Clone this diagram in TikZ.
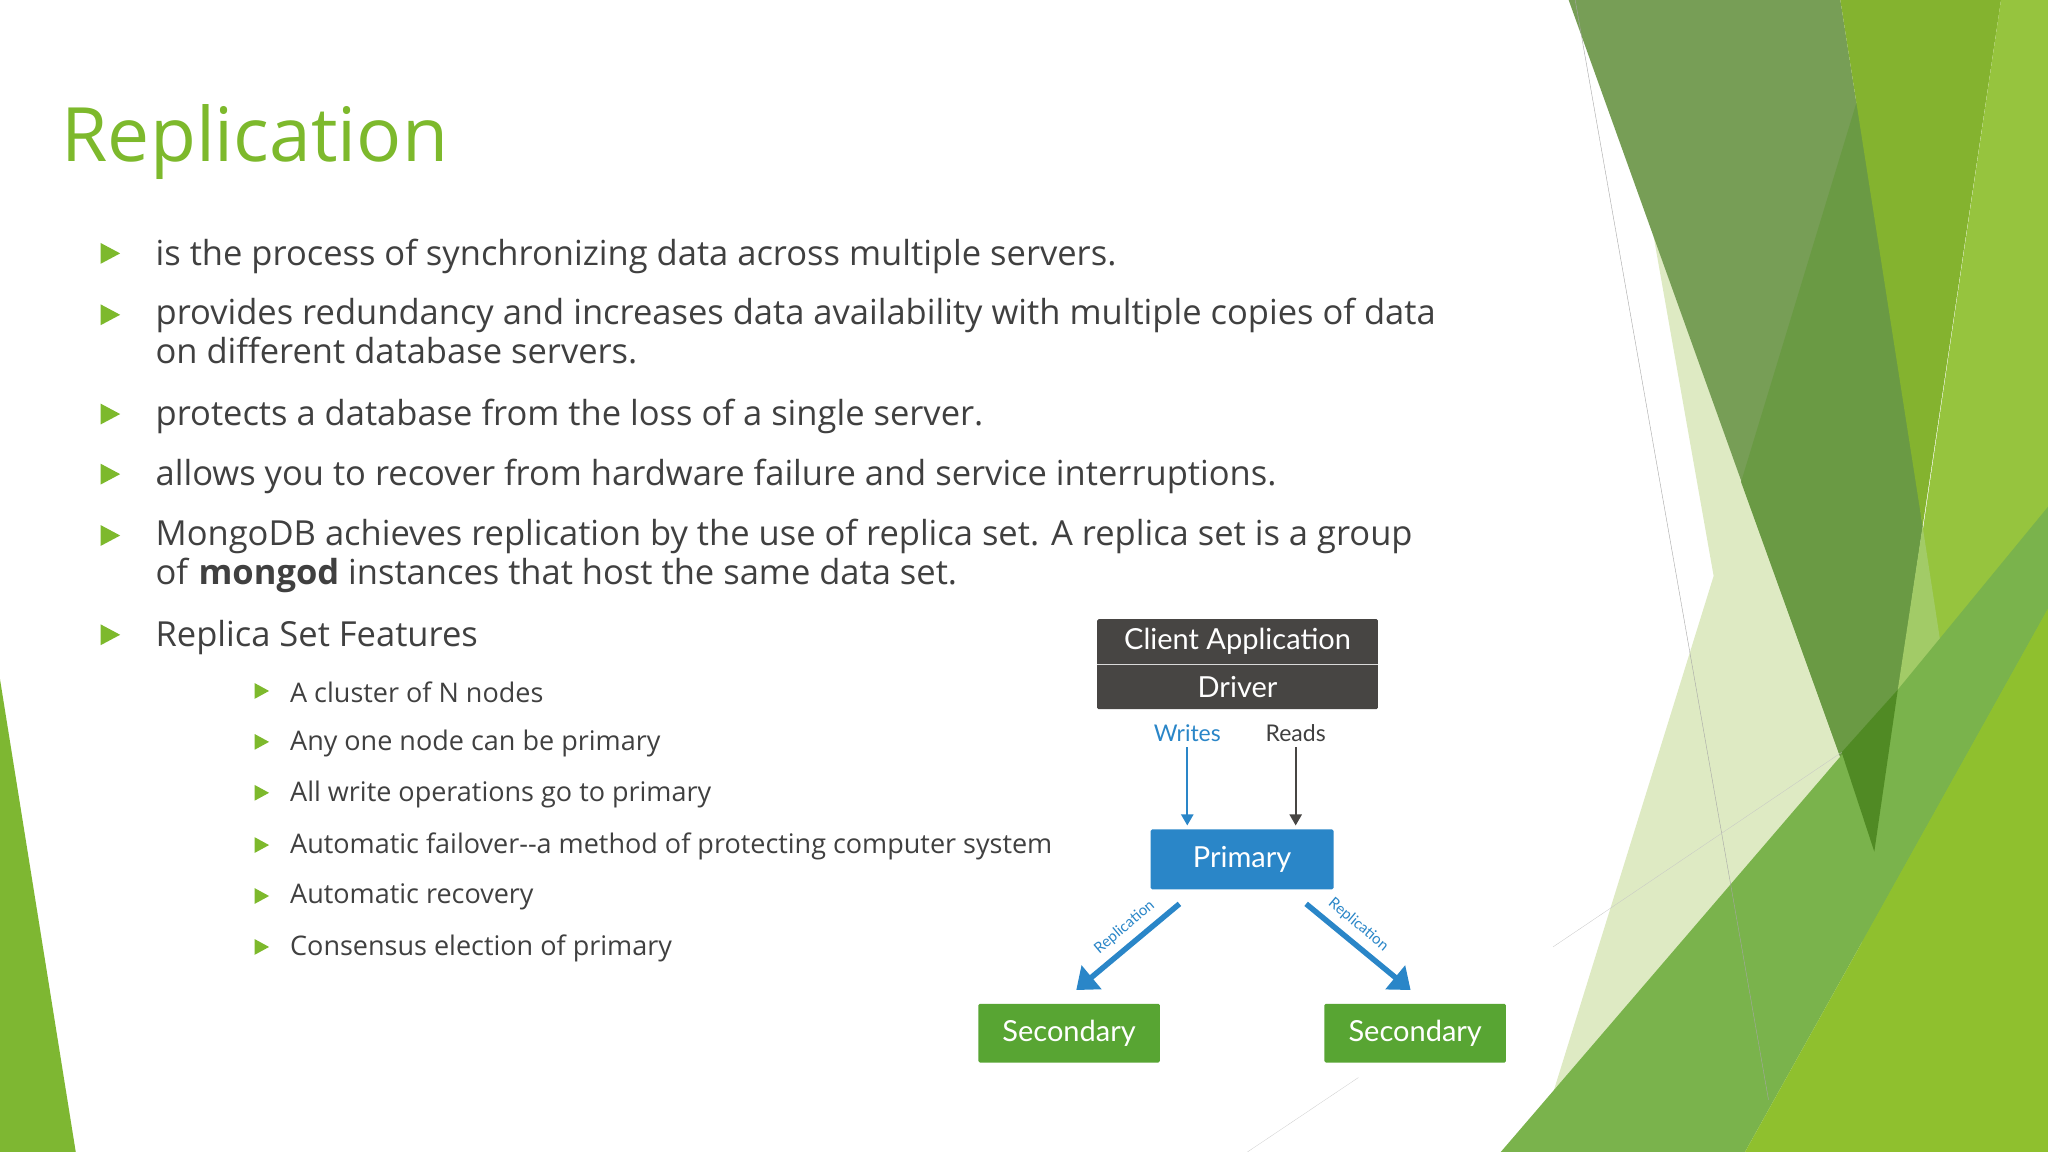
\documentclass[tikz,border=0pt]{standalone}
\usepackage{fontspec}
\setmainfont{Open Sans}
\newfontfamily\dfont{Lato}
\usetikzlibrary{arrows.meta}
\definecolor{tgreen}{HTML}{7DB92C}
\definecolor{txt}{HTML}{404040}
\definecolor{dbox}{HTML}{474543}
\definecolor{pblue}{HTML}{2A86C8}
\definecolor{sgreen}{HTML}{58A533}
\begin{document}
\begin{tikzpicture}[x=1.306pt,y=-1.306pt,
  bul/.style={fill=tgreen},
  body/.style={anchor=west,inner sep=0,text=txt,font=\fontsize{34.5}{39}\selectfont,align=left},
  sub/.style={anchor=west,inner sep=0,text=txt,font=\fontsize{27}{30}\selectfont},
  box/.style={inner sep=0,font=\dfont\fontsize{29}{30}\selectfont,text=white},
  rep/.style={pblue,line width=5.5,-{Triangle[length=20pt,width=30pt]}},
  rl/.style={font=\dfont\fontsize{15}{15}\selectfont,text=pblue,inner sep=0}]
\useasboundingbox (0,0) rectangle (1568,882);
\fill[white] (0,0) rectangle (1568,882);
% background decoration
\fill[fill={rgb,255:red,126;green,183;blue,50}] (0,520) -- (58,882) -- (0,882) -- cycle;
\fill[fill={rgb,255:red,222;green,234;blue,195}] (1265,175) -- (1440,660) -- (1175,882) -- (1312,441) -- cycle;
\fill[fill={rgb,255:red,119;green,158;blue,86}] (1201,0) -- (1409,0) -- (1472,403) -- (1435,652) -- cycle;
\fill[fill={rgb,255:red,106;green,154;blue,68}] (1333,369) -- (1427,60) -- (1472,403) -- (1435,652) -- cycle;
\fill[fill={rgb,255:red,132;green,179;blue,47}] (1409,0) -- (1532,0) -- (1472,403) -- cycle;
\fill[fill={rgb,255:red,150;green,196;blue,62}] (1532,0) -- (1568,0) -- (1568,882) -- (1402,882) -- cycle;
\fill[fill={rgb,255:red,162;green,203;blue,103}] (1472,403) -- (1499,579) -- (1427,715) -- (1453,528) -- cycle;
\fill[fill={rgb,255:red,122;green,179;blue,76}] (1149,882) -- (1453,528) -- (1568,388) -- (1568,466) -- (1336,882) -- cycle;
\fill[fill={rgb,255:red,80;green,138;blue,36}] (1410,576) -- (1453,528) -- (1435,652) -- cycle;
\fill[fill={rgb,255:red,143;green,192;blue,46}] (1336,882) -- (1568,466) -- (1568,882) -- cycle;
\draw[gray!70,line width=0.4] (1206,0) -- (1354,842);
\draw[gray!45,line width=0.3] (1189,725) -- (1410,576);
\draw[gray!40,line width=0.3] (955,882) -- (1040,825);
% title
\node[anchor=base west,inner sep=0,text=tgreen,font=\fontsize{75}{75}\selectfont] (title) at (47,124) {Replication};
% bullets
\foreach \y in {194,241,317,363,410,486}{
  \fill[bul] (77,\y-8) -- (92,\y) -- (77,\y+8) -- cycle;}
\node[body] (b1) at (119,196) {is the process of synchronizing data across multiple servers.};
\node[body,anchor=north west] (b2) at (119,228) {provides redundancy and increases data availability with multiple copies of data\\on different database servers.};
\node[body] (b3) at (119,319) {protects a database from the loss of a single server.};
\node[body] (b4) at (119,365) {allows you to recover from hardware failure and service interruptions.};
\node[body,anchor=north west] (b5) at (119,397) {MongoDB achieves replication by the use of replica set. A replica set is a group\\of \textbf{mongod} instances that host the same data set.};
\node[body] (b6) at (119,488) {Replica Set Features};
\foreach \y in {529,568,607,647,686,725}{
  \fill[bul] (195,\y-6) -- (206,\y) -- (195,\y+6) -- cycle;}
\node[sub] (s1) at (222,530) {A cluster of N nodes};
\node[sub] (s2) at (222,569) {Any one node can be primary};
\node[sub] (s3) at (222,608) {All write operations go to primary};
\node[sub] (s4) at (222,648) {Automatic failover{-}{-}a method of protecting computer system};
\node[sub] (s5) at (222,687) {Automatic recovery};
\node[sub] (s6) at (222,726) {Consensus election of primary};
% diagram
\fill[dbox,rounded corners=1.5] (840,474) rectangle (1055,543);
\draw[white!80!dbox,line width=1] (840,508.5) -- (1055,508.5);
\node[box] (client) at (947.5,491) {Client Application};
\node[box] (driver) at (947.5,526) {Driver};
\node[box,fill=pblue,rounded corners=1.5,minimum width=182.8pt,minimum height=60pt] (primary) at (951,658) {Primary};
\node[box,fill=sgreen,rounded corners=1.5,minimum width=181.5pt,minimum height=58.8pt] (sec1) at (818.5,791) {Secondary};
\node[box,fill=sgreen,rounded corners=1.5,minimum width=181.5pt,minimum height=58.8pt] (sec2) at (1083.5,791) {Secondary};
\node[inner sep=0,text=pblue,font=\dfont\fontsize{23}{23}\selectfont] (writes) at (909,561) {Writes};
\node[inner sep=0,text=txt,font=\dfont\fontsize{23}{23}\selectfont] (reads) at (992,561) {Reads};
\coordinate (w1) at (909,572); \coordinate (w2) at (909,632);
\coordinate (r1) at (992,572); \coordinate (r2) at (992,632);
\draw[pblue,line width=2.2,-{Triangle[length=11pt,width=12pt]}] (w1) -- (w2);
\draw[dbox,line width=2.2,-{Triangle[length=11pt,width=12pt]}] (r1) -- (r2);
\coordinate (l1) at (903,692); \coordinate (l2) at (824,758);
\coordinate (q1) at (1000,692); \coordinate (q2) at (1080,758);
\draw[rep] (l1) -- (l2);
\draw[rep] (q1) -- (q2);
\node[rl,rotate=40] (rl1) at (861,710) {Replication};
\node[rl,rotate=-40] (rl2) at (1040,708) {Replication};
\end{tikzpicture}
\end{document}
